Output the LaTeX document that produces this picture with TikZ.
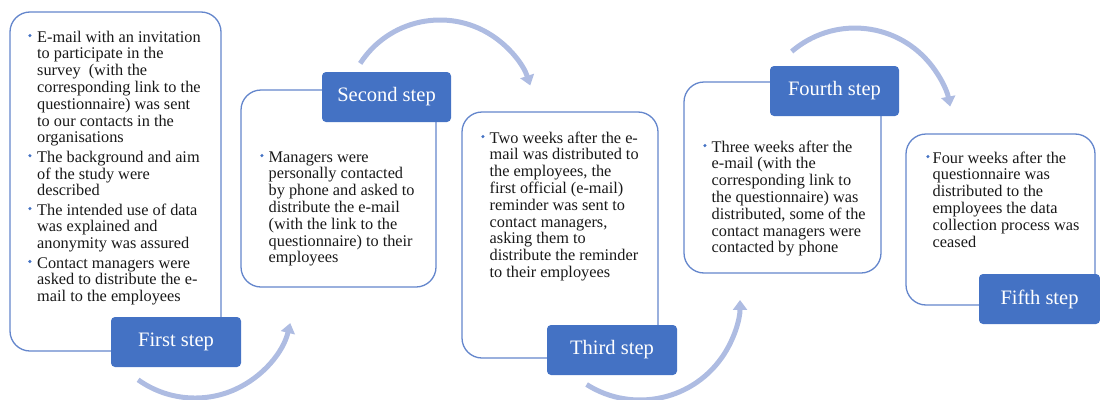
\documentclass[tikz,border=0pt]{standalone}
\usepackage{fontspec}
\setmainfont{Liberation Serif}
\usetikzlibrary{arrows.meta}

\definecolor{tabblue}{RGB}{68,114,196}
\definecolor{boxline}{RGB}{100,134,204}
\definecolor{arrowcol}{RGB}{174,188,226}
\definecolor{textcol}{RGB}{25,25,25}

% blue bullet dot in a fixed-width column
\newcommand\bulletmark[1][8.5pt]{\makebox[#1][l]{\tikz[baseline=0pt]\fill[tabblue] (1.7pt,6.6pt) circle (1.7pt);}}

\tikzset{
  panel/.style={draw=boxline, line width=1.3pt, rounded corners=20pt, fill=white, inner sep=0pt},
  steptab/.style={fill=tabblue, rounded corners=4pt, text=white, inner sep=0pt,
    minimum height=50pt, font=\fontsize{20.5}{22}\selectfont},
  body/.style={anchor=north west, inner sep=0pt, text=textcol, font=\fontsize{16.3}{16.8}\selectfont},
  flowarc/.style={draw=arrowcol, line width=5pt, -{Triangle[length=10pt, width=14pt]}}
}

\begin{document}
\begin{tikzpicture}[x=1pt, y=-1pt]
\useasboundingbox (0,0) rectangle (1100,399);

% outlined panels
\node[panel, minimum width=211pt, minimum height=339pt] (p1) at (115.5,181.5) {};
\node[panel, minimum width=195pt, minimum height=197pt] (p2) at (338.5,188.5) {};
\node[panel, minimum width=196pt, minimum height=246pt] (p3) at (560,235) {};
\node[panel, minimum width=197pt, minimum height=191pt] (p4) at (782.5,177.5) {};
\node[panel, minimum width=189pt, minimum height=171pt] (p5) at (1000.5,219.5) {};

% panel texts
\node[body] (t1) at (28,30.2) {\begin{tabular}{@{}l@{}l@{}}
\bulletmark[9pt] & E-mail with an invitation\\
 & to participate in the\\
 & survey \ (with the\\
 & corresponding link to the\\
 & questionnaire) was sent\\
 & to our contacts in the\\
 & organisations\\[2.5pt]
\bulletmark[9pt] & The background and aim\\
 & of the study were\\
 & described\\[2.5pt]
\bulletmark[9pt] & The intended use of data\\
 & was explained and\\
 & anonymity was assured\\[2.5pt]
\bulletmark[9pt] & Contact managers were\\
 & asked to distribute the e-\\
 & mail to the employees
\end{tabular}};

\node[body] (t2) at (260,150.2) {\begin{tabular}{@{}l@{}l@{}}
\bulletmark & Managers were\\
 & personally contacted\\
 & by phone and asked to\\
 & distribute the e-mail\\
 & (with the link to the\\
 & questionnaire) to their\\
 & employees
\end{tabular}};

\node[body] (t3) at (481,131.2) {\begin{tabular}{@{}l@{}l@{}}
\bulletmark & Two weeks after the e-\\
 & mail was distributed to\\
 & the employees, the\\
 & first official (e-mail)\\
 & reminder was sent to\\
 & contact managers,\\
 & asking them to\\
 & distribute the reminder\\
 & to their employees
\end{tabular}};

\node[body] (t4) at (703,140.2) {\begin{tabular}{@{}l@{}l@{}}
\bulletmark & Three weeks after the\\
 & e-mail (with the\\
 & corresponding link to\\
 & the questionnaire) was\\
 & distributed, some of the\\
 & contact managers were\\
 & contacted by phone
\end{tabular}};

\node[body] (t5) at (926,151.2) {\begin{tabular}{@{}l@{}l@{}}
\bulletmark[6.5pt] & Four weeks after the\\
 & questionnaire was\\
 & distributed to the\\
 & employees the data\\
 & collection process was\\
 & ceased
\end{tabular}};

% step labels
\node[steptab, minimum width=130pt] (s1) at (176,342) {First step};
\node[steptab, minimum width=129pt] (s2) at (386.5,97) {Second step};
\node[steptab, minimum width=130pt] (s3) at (612,350) {Third step};
\node[steptab, minimum width=129pt] (s4) at (834.5,91) {Fourth step};
\node[steptab, minimum width=121pt] (s5) at (1039.5,299) {Fifth step};

% curved arrows between the steps
\coordinate (a1) at (138.1,379.8);
\coordinate (a2) at (360.2,63.4);
\coordinate (a3) at (586.6,384.5);
\coordinate (a4) at (791.7,51.5);
\draw[flowarc] (a1) arc[start angle=125.5, end angle=13.6, radius=98];
\draw[flowarc] (a2) arc[start angle=212.9, end angle=341.9, radius=95];
\draw[flowarc] (a3) arc[start angle=122.3, end angle=0, radius=100];
\draw[flowarc] (a4) arc[start angle=229.3, end angle=349, radius=97];
\end{tikzpicture}
\end{document}
